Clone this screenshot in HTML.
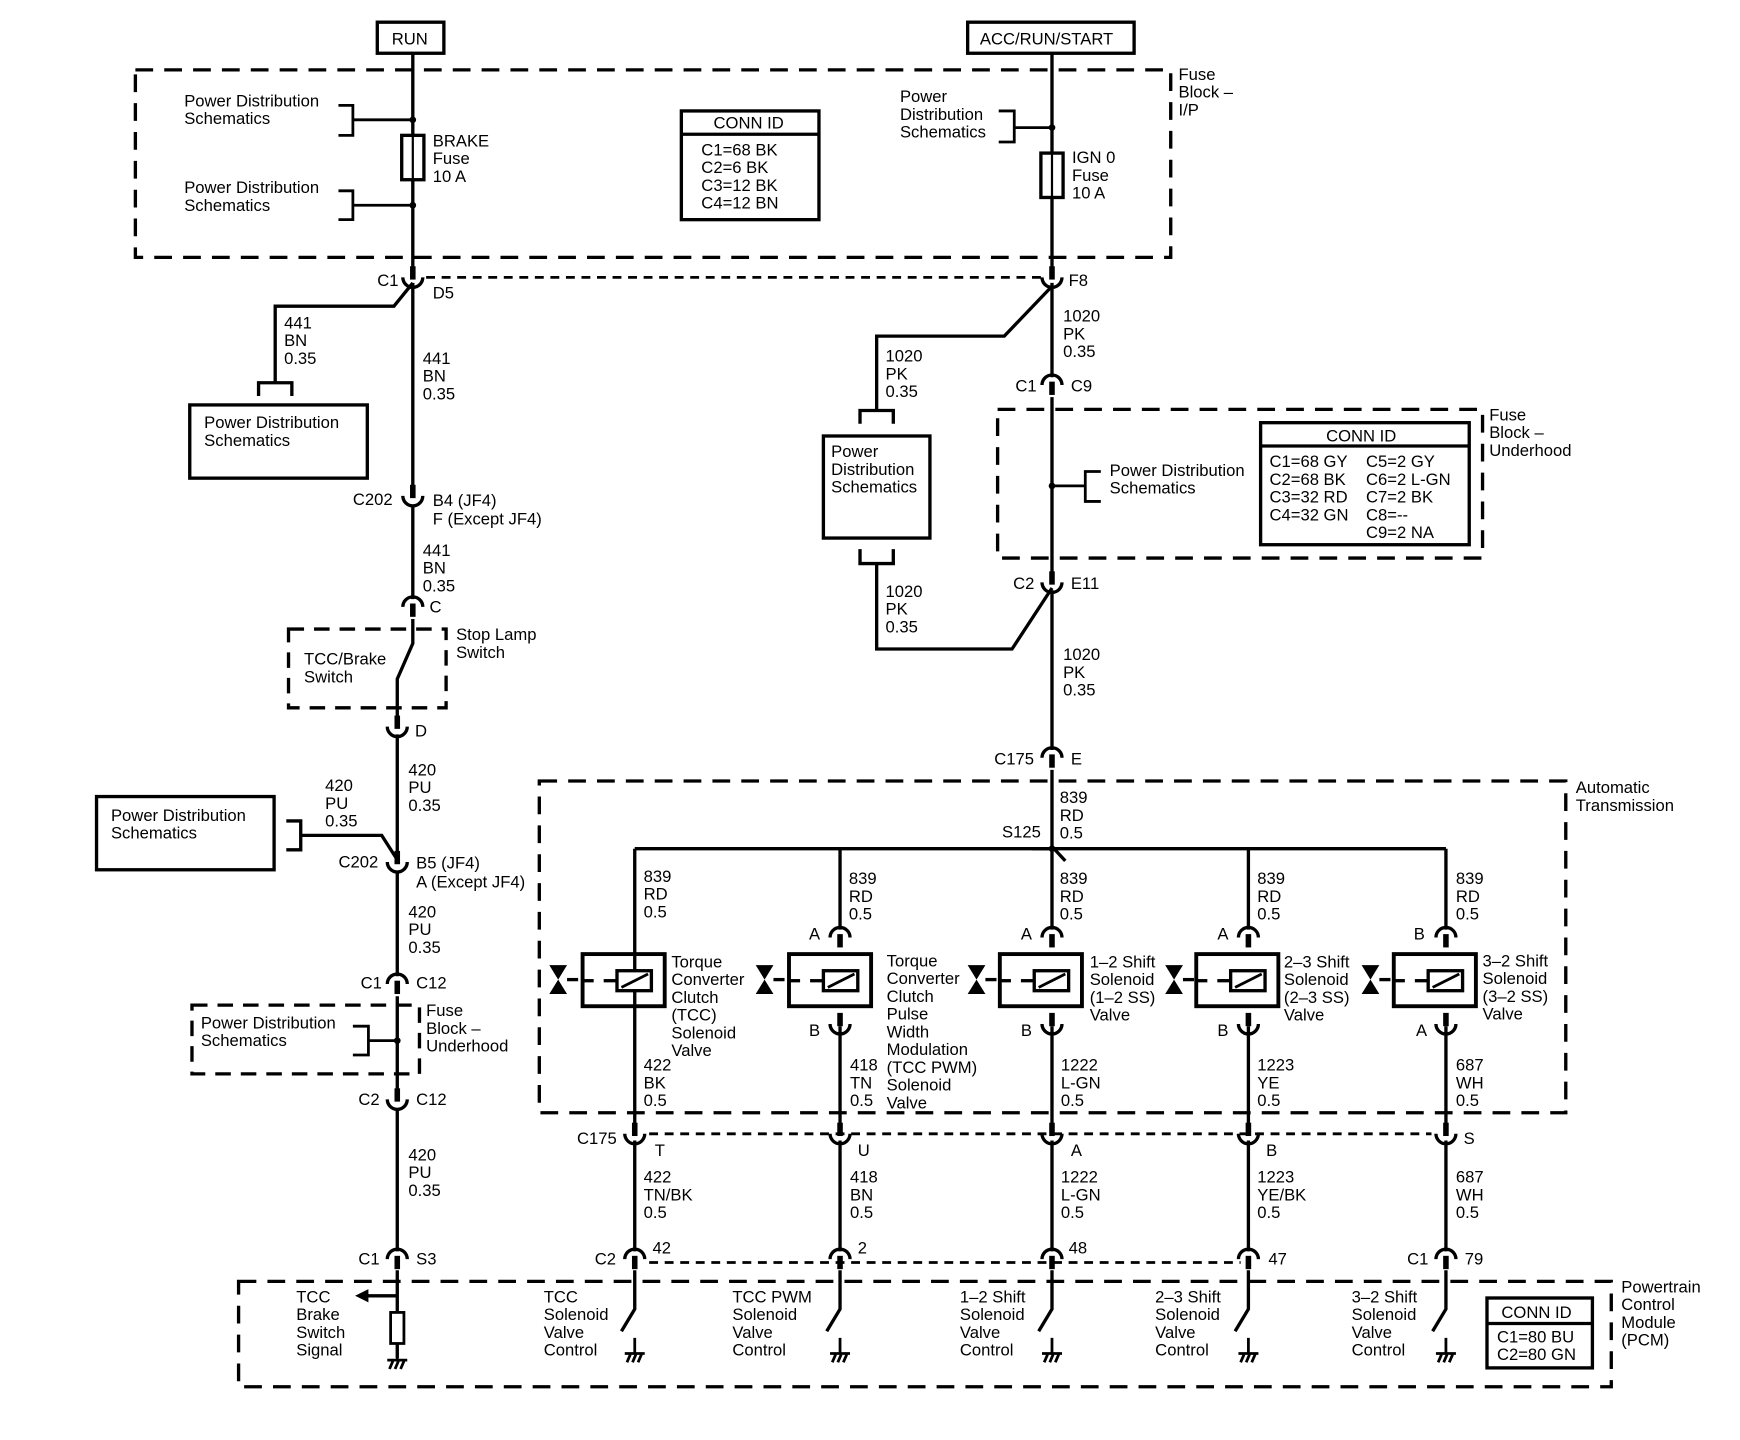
<!DOCTYPE html>
<html><head><meta charset="utf-8"><style>
html,body{margin:0;padding:0;background:#fff}
svg{display:block}
text{font-family:"Liberation Sans",Arial,sans-serif;font-size:15px;fill:#000}
</style></head><body>
<svg width="1740" height="1440" viewBox="0 0 1568 1298" preserveAspectRatio="none" xmlns="http://www.w3.org/2000/svg">
<defs>
<g id="fem"><path d="M-9,6 A9,9 0 0 1 9,6" fill="none" stroke="#000" stroke-width="3"/><rect x="-2.5" y="3" width="5" height="12"/></g>
<g id="cup"><path d="M-9,-5 A9,9 0 0 0 9,-5" fill="none" stroke="#000" stroke-width="3"/><rect x="-2.5" y="-15" width="5" height="12"/></g>
<g id="gnd"><path d="M0,0 V14 M-9,14 H9 M-7,22 L-4,15 M-2,22 L1,15 M3,22 L6,15" stroke="#000" stroke-width="2.5" fill="none"/></g>
<g id="bow"><polygon points="-8,-13 8,-13 0,0"/><polygon points="-8,13 8,13 0,0"/><line x1="8" y1="0" x2="18" y2="0" stroke="#000" stroke-width="3"/></g>
<g id="sol"><rect x="-47" y="-24" width="74" height="47" fill="none" stroke="#000" stroke-width="3.5"/><line x1="-47" y1="0" x2="-37" y2="0" stroke="#000" stroke-width="3"/><line x1="-28" y1="0" x2="-16" y2="0" stroke="#000" stroke-width="3"/><rect x="-16" y="-9" width="31" height="18" fill="#fff" stroke="#000" stroke-width="3"/><line x1="-12" y1="6" x2="12" y2="-6" stroke="#000" stroke-width="2.5"/></g>
</defs>
<g stroke="#000" fill="none">
<rect x="340" y="20" width="60" height="28" stroke-width="3"/>
<rect x="872" y="20" width="150" height="28" stroke-width="3"/>
<rect x="122" y="63" width="933" height="169" stroke-width="3" stroke-dasharray="16,10"/>
<path d="M372,48 V245 M372,255 V440 M372,455 V540 M372,558 V580 L358,612 V648 M358,662 V770 M358,785 V880 M358,898 V985 M358,1000 V1128 M358,1145 V1182" stroke-width="3"/>
<path d="M948,48 V245 M948,255 V340 M948,358 V520 M948,532 V676 M948,694 V765" stroke-width="3"/>
<path d="M305,95 H318 V122 H305 M318,108 H372 M305,172 H318 V198 H305 M318,185 H372" stroke-width="2.5"/>
<rect x="362" y="122" width="20" height="40" stroke-width="3" fill="#fff"/>
<line x1="372" y1="122" x2="372" y2="162" stroke-width="2"/>
<rect x="614" y="100" width="124" height="98" stroke-width="3"/>
<line x1="614" y1="121" x2="738" y2="121" stroke-width="3"/>
<path d="M900,100 H914 V128 H900 M914,115 H948" stroke-width="2.5"/>
<rect x="938" y="138" width="20" height="40" stroke-width="3" fill="#fff"/>
<line x1="948" y1="138" x2="948" y2="178" stroke-width="2"/>
<line x1="384" y1="250" x2="938" y2="250" stroke-width="2.5" stroke-dasharray="8,6"/>
<path d="M372,255 L355,276 H248 V345 M233,357 V345 H263 V357" stroke-width="3"/>
<rect x="171" y="365" width="160" height="66" stroke-width="3"/>
<rect x="260" y="567" width="142" height="71" stroke-width="3" stroke-dasharray="14,9"/>
<rect x="87" y="718" width="160" height="66" stroke-width="3"/>
<path d="M258,740 H271 V766 H258 M271,753 H344 L358,775" stroke-width="3"/>
<rect x="173" y="906" width="205" height="62" stroke-width="3" stroke-dasharray="14,9"/>
<path d="M318,925 H332 V951 H318 M332,938 H358" stroke-width="2.5"/>
<path d="M358,1168 H330" stroke-width="3"/>
<rect x="352" y="1183" width="12" height="28" stroke-width="2.5"/>
<path d="M358,1211 V1224" stroke-width="3"/>
<path d="M948,258 L905,303 H790 V370 M775,382 V370 H805 V382" stroke-width="3"/>
<rect x="742" y="393" width="96" height="92" stroke-width="3"/>
<path d="M775,495 V508 H805 V495 M790,508 V585 H912 L948,530" stroke-width="3"/>
<rect x="899" y="369" width="437" height="134" stroke-width="3" stroke-dasharray="16,10"/>
<path d="M948,438 H978 M992,425 H978 V452 H992" stroke-width="2.5"/>
<rect x="1136" y="381" width="188" height="110" stroke-width="3"/>
<line x1="1136" y1="402" x2="1324" y2="402" stroke-width="3"/>
<rect x="486" y="704" width="925" height="299" stroke-width="3" stroke-dasharray="16,10"/>
<path d="M948,765 L930,765 M948,763 L960,776" stroke-width="3"/>
<path d="M572,765 H1303 M572,765 V1017 M757,765 V838 M948,765 V838 M1125,765 V838 M1303,765 V838" stroke-width="3"/>
<path d="M757,925 V1017 M948,925 V1017 M1125,925 V1017 M1303,925 V1017" stroke-width="3"/>
<line x1="585" y1="1022" x2="1290" y2="1022" stroke-width="2.5" stroke-dasharray="8,6"/>
<path d="M572,1028 V1128 M757,1028 V1128 M948,1028 V1128 M1125,1028 V1128 M1303,1028 V1128" stroke-width="3"/>
<line x1="585" y1="1138" x2="1118" y2="1138" stroke-width="2.5" stroke-dasharray="8,6"/>
<rect x="215" y="1155" width="1237" height="95" stroke-width="3" stroke-dasharray="16,10"/>
<path d="M572,1145 V1180 L560,1200 M757,1145 V1180 L745,1200 M948,1145 V1180 L936,1200 M1125,1145 V1180 L1113,1200 M1303,1145 V1180 L1291,1200" stroke-width="3"/>
<rect x="1340" y="1170" width="95" height="63" stroke-width="3"/>
<line x1="1340" y1="1193" x2="1435" y2="1193" stroke-width="3"/>
</g>
<circle cx="372" cy="108" r="3"/><circle cx="372" cy="185" r="3"/><circle cx="948" cy="115" r="3"/><circle cx="948" cy="438" r="3"/><circle cx="358" cy="938" r="3"/><circle cx="948" cy="765" r="3"/>
<polygon points="320,1168 332,1162 332,1174"/>
<use href="#cup" x="372" y="255"/><use href="#cup" x="948" y="255"/>
<use href="#cup" x="372" y="452"/>
<use href="#fem" x="372" y="541"/>
<use href="#cup" x="358" y="660"/>
<use href="#cup" x="358" y="782"/>
<use href="#fem" x="358" y="881"/>
<use href="#cup" x="358" y="996"/>
<use href="#fem" x="358" y="1129"/>
<use href="#fem" x="948" y="341"/>
<use href="#cup" x="948" y="530"/>
<use href="#fem" x="948" y="677"/>
<use href="#fem" x="757" y="839"/><use href="#fem" x="948" y="839"/><use href="#fem" x="1125" y="839"/><use href="#fem" x="1303" y="839"/>
<use href="#cup" x="757" y="928"/><use href="#cup" x="948" y="928"/><use href="#cup" x="1125" y="928"/><use href="#cup" x="1303" y="928"/>
<use href="#cup" x="572" y="1027"/><use href="#cup" x="757" y="1027"/><use href="#cup" x="948" y="1027"/><use href="#cup" x="1125" y="1027"/><use href="#cup" x="1303" y="1027"/>
<use href="#fem" x="572" y="1129"/><use href="#fem" x="757" y="1129"/><use href="#fem" x="948" y="1129"/><use href="#fem" x="1125" y="1129"/><use href="#fem" x="1303" y="1129"/>
<use href="#sol" x="572" y="884"/><use href="#sol" x="758" y="884"/><use href="#sol" x="948" y="884"/><use href="#sol" x="1125" y="884"/><use href="#sol" x="1303" y="884"/>
<use href="#bow" x="503" y="883"/><use href="#bow" x="689" y="883"/><use href="#bow" x="880" y="883"/><use href="#bow" x="1058" y="883"/><use href="#bow" x="1235" y="883"/>
<use href="#gnd" x="358" y="1212"/><use href="#gnd" x="572" y="1206"/><use href="#gnd" x="757" y="1206"/><use href="#gnd" x="948" y="1206"/><use href="#gnd" x="1125" y="1206"/><use href="#gnd" x="1303" y="1206"/>

<text x="353" y="40">RUN</text>
<text x="883" y="40">ACC/RUN/START</text>
<text x="1062" y="72">Fuse<tspan x="1062" dy="16">Block –</tspan><tspan x="1062" dy="16">I/P</tspan></text>
<text x="166" y="96">Power Distribution<tspan x="166" dy="16">Schematics</tspan></text>
<text x="166" y="174">Power Distribution<tspan x="166" dy="16">Schematics</tspan></text>
<text x="390" y="132">BRAKE<tspan x="390" dy="16">Fuse</tspan><tspan x="390" dy="16">10 A</tspan></text>
<text x="643" y="116">CONN ID</text>
<text x="632" y="140">C1=68 BK<tspan x="632" dy="16">C2=6 BK</tspan><tspan x="632" dy="16">C3=12 BK</tspan><tspan x="632" dy="16">C4=12 BN</tspan></text>
<text x="811" y="92">Power<tspan x="811" dy="16">Distribution</tspan><tspan x="811" dy="16">Schematics</tspan></text>
<text x="966" y="147">IGN 0<tspan x="966" dy="16">Fuse</tspan><tspan x="966" dy="16">10 A</tspan></text>
<text x="340" y="258">C1</text><text x="390" y="269">D5</text>
<text x="963" y="258">F8</text>
<text x="256" y="296">441<tspan x="256" dy="16">BN</tspan><tspan x="256" dy="16">0.35</tspan></text>
<text x="381" y="328">441<tspan x="381" dy="16">BN</tspan><tspan x="381" dy="16">0.35</tspan></text>
<text x="184" y="386">Power Distribution<tspan x="184" dy="16">Schematics</tspan></text>
<text x="318" y="455">C202</text>
<text x="390" y="456">B4 (JF4)<tspan x="390" dy="17">F (Except JF4)</tspan></text>
<text x="381" y="501">441<tspan x="381" dy="16">BN</tspan><tspan x="381" dy="16">0.35</tspan></text>
<text x="387" y="552">C</text>
<text x="411" y="577">Stop Lamp<tspan x="411" dy="16">Switch</tspan></text>
<text x="274" y="599">TCC/Brake<tspan x="274" dy="16">Switch</tspan></text>
<text x="374" y="664">D</text>
<text x="368" y="699">420<tspan x="368" dy="16">PU</tspan><tspan x="368" dy="16">0.35</tspan></text>
<text x="293" y="713">420<tspan x="293" dy="16">PU</tspan><tspan x="293" dy="16">0.35</tspan></text>
<text x="100" y="740">Power Distribution<tspan x="100" dy="16">Schematics</tspan></text>
<text x="305" y="782">C202</text>
<text x="375" y="783">B5 (JF4)<tspan x="375" dy="17">A (Except JF4)</tspan></text>
<text x="368" y="827">420<tspan x="368" dy="16">PU</tspan><tspan x="368" dy="16">0.35</tspan></text>
<text x="325" y="891">C1</text><text x="375" y="891">C12</text>
<text x="384" y="916">Fuse<tspan x="384" dy="16">Block –</tspan><tspan x="384" dy="16">Underhood</tspan></text>
<text x="181" y="927">Power Distribution<tspan x="181" dy="16">Schematics</tspan></text>
<text x="323" y="996">C2</text><text x="375" y="996">C12</text>
<text x="368" y="1046">420<tspan x="368" dy="16">PU</tspan><tspan x="368" dy="16">0.35</tspan></text>
<text x="323" y="1140">C1</text><text x="375" y="1140">S3</text>
<text x="267" y="1174">TCC<tspan x="267" dy="16">Brake</tspan><tspan x="267" dy="16">Switch</tspan><tspan x="267" dy="16">Signal</tspan></text>
<text x="958" y="290">1020<tspan x="958" dy="16">PK</tspan><tspan x="958" dy="16">0.35</tspan></text>
<text x="798" y="326">1020<tspan x="798" dy="16">PK</tspan><tspan x="798" dy="16">0.35</tspan></text>
<text x="749" y="412">Power<tspan x="749" dy="16">Distribution</tspan><tspan x="749" dy="16">Schematics</tspan></text>
<text x="798" y="538">1020<tspan x="798" dy="16">PK</tspan><tspan x="798" dy="16">0.35</tspan></text>
<text x="915" y="353">C1</text><text x="965" y="353">C9</text>
<text x="1342" y="379">Fuse<tspan x="1342" dy="16">Block –</tspan><tspan x="1342" dy="16">Underhood</tspan></text>
<text x="1000" y="429">Power Distribution<tspan x="1000" dy="16">Schematics</tspan></text>
<text x="1195" y="398">CONN ID</text>
<text x="1144" y="421">C1=68 GY<tspan x="1144" dy="16">C2=68 BK</tspan><tspan x="1144" dy="16">C3=32 RD</tspan><tspan x="1144" dy="16">C4=32 GN</tspan></text>
<text x="1231" y="421">C5=2 GY<tspan x="1231" dy="16">C6=2 L-GN</tspan><tspan x="1231" dy="16">C7=2 BK</tspan><tspan x="1231" dy="16">C8=--</tspan><tspan x="1231" dy="16">C9=2 NA</tspan></text>
<text x="913" y="531">C2</text><text x="965" y="531">E11</text>
<text x="958" y="595">1020<tspan x="958" dy="16">PK</tspan><tspan x="958" dy="16">0.35</tspan></text>
<text x="896" y="689">C175</text><text x="965" y="689">E</text>
<text x="1420" y="715">Automatic<tspan x="1420" dy="16">Transmission</tspan></text>
<text x="955" y="724">839<tspan x="955" dy="16">RD</tspan><tspan x="955" dy="16">0.5</tspan></text>
<text x="903" y="755">S125</text>
<text x="580" y="795">839<tspan x="580" dy="16">RD</tspan><tspan x="580" dy="16">0.5</tspan></text>
<text x="765" y="797">839<tspan x="765" dy="16">RD</tspan><tspan x="765" dy="16">0.5</tspan></text>
<text x="955" y="797">839<tspan x="955" dy="16">RD</tspan><tspan x="955" dy="16">0.5</tspan></text>
<text x="1133" y="797">839<tspan x="1133" dy="16">RD</tspan><tspan x="1133" dy="16">0.5</tspan></text>
<text x="1312" y="797">839<tspan x="1312" dy="16">RD</tspan><tspan x="1312" dy="16">0.5</tspan></text>
<text x="729" y="847">A</text><text x="920" y="847">A</text><text x="1097" y="847">A</text><text x="1274" y="847">B</text>
<text x="729" y="934">B</text><text x="920" y="934">B</text><text x="1097" y="934">B</text><text x="1276" y="934">A</text>
<text x="605" y="872">Torque<tspan x="605" dy="16">Converter</tspan><tspan x="605" dy="16">Clutch</tspan><tspan x="605" dy="16">(TCC)</tspan><tspan x="605" dy="16">Solenoid</tspan><tspan x="605" dy="16">Valve</tspan></text>
<text x="799" y="871">Torque<tspan x="799" dy="16">Converter</tspan><tspan x="799" dy="16">Clutch</tspan><tspan x="799" dy="16">Pulse</tspan><tspan x="799" dy="16">Width</tspan><tspan x="799" dy="16">Modulation</tspan><tspan x="799" dy="16">(TCC PWM)</tspan><tspan x="799" dy="16">Solenoid</tspan><tspan x="799" dy="16">Valve</tspan></text>
<text x="982" y="872">1–2 Shift<tspan x="982" dy="16">Solenoid</tspan><tspan x="982" dy="16">(1–2 SS)</tspan><tspan x="982" dy="16">Valve</tspan></text>
<text x="1157" y="872">2–3 Shift<tspan x="1157" dy="16">Solenoid</tspan><tspan x="1157" dy="16">(2–3 SS)</tspan><tspan x="1157" dy="16">Valve</tspan></text>
<text x="1336" y="871">3–2 Shift<tspan x="1336" dy="16">Solenoid</tspan><tspan x="1336" dy="16">(3–2 SS)</tspan><tspan x="1336" dy="16">Valve</tspan></text>
<text x="580" y="965">422<tspan x="580" dy="16">BK</tspan><tspan x="580" dy="16">0.5</tspan></text>
<text x="766" y="965">418<tspan x="766" dy="16">TN</tspan><tspan x="766" dy="16">0.5</tspan></text>
<text x="956" y="965">1222<tspan x="956" dy="16">L-GN</tspan><tspan x="956" dy="16">0.5</tspan></text>
<text x="1133" y="965">1223<tspan x="1133" dy="16">YE</tspan><tspan x="1133" dy="16">0.5</tspan></text>
<text x="1312" y="965">687<tspan x="1312" dy="16">WH</tspan><tspan x="1312" dy="16">0.5</tspan></text>
<text x="520" y="1031">C175</text>
<text x="590" y="1042">T</text><text x="773" y="1042">U</text><text x="965" y="1042">A</text><text x="1141" y="1042">B</text><text x="1319" y="1031">S</text>
<text x="580" y="1066">422<tspan x="580" dy="16">TN/BK</tspan><tspan x="580" dy="16">0.5</tspan></text>
<text x="766" y="1066">418<tspan x="766" dy="16">BN</tspan><tspan x="766" dy="16">0.5</tspan></text>
<text x="956" y="1066">1222<tspan x="956" dy="16">L-GN</tspan><tspan x="956" dy="16">0.5</tspan></text>
<text x="1133" y="1066">1223<tspan x="1133" dy="16">YE/BK</tspan><tspan x="1133" dy="16">0.5</tspan></text>
<text x="1312" y="1066">687<tspan x="1312" dy="16">WH</tspan><tspan x="1312" dy="16">0.5</tspan></text>
<text x="536" y="1140">C2</text><text x="588" y="1130">42</text>
<text x="773" y="1130">2</text><text x="963" y="1130">48</text><text x="1143" y="1140">47</text>
<text x="1268" y="1140">C1</text><text x="1320" y="1140">79</text>
<text x="490" y="1174">TCC<tspan x="490" dy="16">Solenoid</tspan><tspan x="490" dy="16">Valve</tspan><tspan x="490" dy="16">Control</tspan></text>
<text x="660" y="1174">TCC PWM<tspan x="660" dy="16">Solenoid</tspan><tspan x="660" dy="16">Valve</tspan><tspan x="660" dy="16">Control</tspan></text>
<text x="865" y="1174">1–2 Shift<tspan x="865" dy="16">Solenoid</tspan><tspan x="865" dy="16">Valve</tspan><tspan x="865" dy="16">Control</tspan></text>
<text x="1041" y="1174">2–3 Shift<tspan x="1041" dy="16">Solenoid</tspan><tspan x="1041" dy="16">Valve</tspan><tspan x="1041" dy="16">Control</tspan></text>
<text x="1218" y="1174">3–2 Shift<tspan x="1218" dy="16">Solenoid</tspan><tspan x="1218" dy="16">Valve</tspan><tspan x="1218" dy="16">Control</tspan></text>
<text x="1353" y="1188">CONN ID</text>
<text x="1349" y="1210">C1=80 BU<tspan x="1349" dy="16">C2=80 GN</tspan></text>
<text x="1461" y="1165">Powertrain<tspan x="1461" dy="16">Control</tspan><tspan x="1461" dy="16">Module</tspan><tspan x="1461" dy="16">(PCM)</tspan></text>
</svg>
</body></html>
